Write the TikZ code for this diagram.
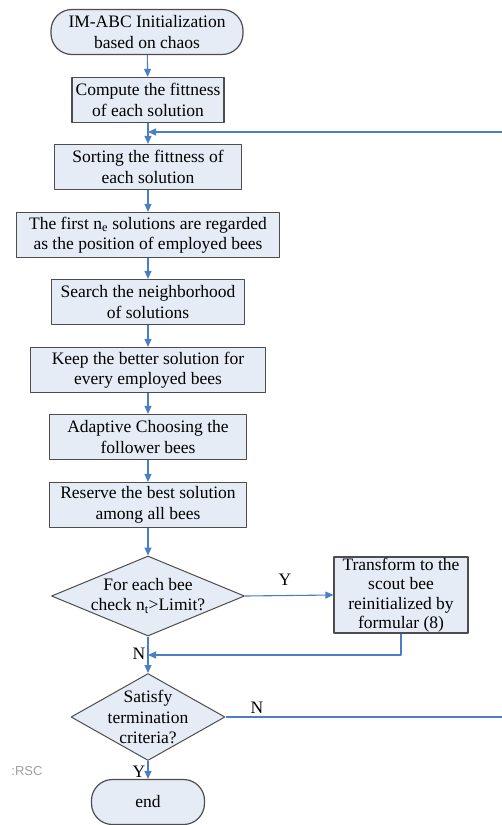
\documentclass[tikz,border=0pt]{standalone}
\usepackage{fontspec}
\setmainfont{Liberation Serif}
\newfontfamily\marksans{Liberation Sans}
\definecolor{ink}{HTML}{000000}
\definecolor{frame}{HTML}{4D4D4D}
\definecolor{boxfill}{HTML}{E6ECF6}
\definecolor{flowblue}{HTML}{4A7EC7}
\definecolor{faint}{HTML}{A0A0A0}
\newcommand{\figfontsize}{\fontsize{17.5}{20.5}\selectfont}
\tikzset{
  every picture/.style = {font=\figfontsize, line join=round},
  stepbox/.style       = {draw=frame, line width=1.2pt, fill=boxfill, text=ink,
                          align=center, minimum height=45, inner sep=0pt},
  terminal/.style      = {stepbox, rounded corners=21pt},
  decision/.style      = {draw=frame, line width=1pt, fill=boxfill, diamond, inner sep=0pt},
  flow/.style          = {draw=flowblue, line width=1.1pt},
  flowarrow/.style     = {flow, -{Triangle[length=8pt, width=7pt]}},
}
\usetikzlibrary{arrows.meta, shapes.geometric}

\begin{document}
\begin{tikzpicture}[x=1pt, y=-1pt]
  \useasboundingbox (0,0) rectangle (502,825);

  % --- main column of steps -------------------------------------------------
  \node[terminal, minimum width=192] (init)    at (147,32)  {IM-ABC Initialization\\based on chaos};
  \node[stepbox,  minimum width=152] (fitness) at (148,100) {Compute the fittness\\of each solution};
  \node[stepbox,  minimum width=187] (sorting) at (148,167) {Sorting the fittness of\\each solution};
  \node[stepbox,  minimum width=263] (employ)  at (148,235) {The first n\textsubscript{e} solutions are regarded\\as the position of employed bees};
  \node[stepbox,  minimum width=193] (search)  at (148,302) {Search the neighborhood\\of solutions};
  \node[stepbox,  minimum width=235] (keep)    at (148,370) {Keep the better solution for\\every employed bees};
  \node[stepbox,  minimum width=197] (follow)  at (148,437) {Adaptive Choosing the\\follower bees};
  \node[stepbox,  minimum width=197] (reserve) at (148,505) {Reserve the best solution\\among all bees};

  % --- limit check and scout bee --------------------------------------------
  \node[decision, minimum width=193, minimum height=80] (check) at (148,596) {};
  \node[align=center, text=ink] (checktext) at (check) {For each bee\\check n\textsubscript{t}>Limit?};
  \node[stepbox, minimum width=134, minimum height=76, font=\fontsize{17.5}{19.5}\selectfont]
    (scout) at (401,595) {Transform to the\\scout bee\\reinitialized by\\formular (8)};

  % --- termination ----------------------------------------------------------
  \node[decision, minimum width=154, minimum height=87] (term) at (148,717) {};
  \node[align=center, text=ink, font=\fontsize{17.5}{20.5}\selectfont] (termtext) at (term) {Satisfy\\termination\\criteria?};
  \node[terminal, minimum width=113, minimum height=45] (stop) at (148,802) {end};

  % loop ends at the picture's right edge
  \coordinate (loopin)  at (502,132);
  \coordinate (merge)   at (148,655);

  % --- connectors -----------------------------------------------------------
  \draw[flowarrow] (init) -- (fitness);
  \draw[flowarrow] (fitness) -- (sorting);
  \draw[flowarrow] (loopin) -- (loopin -| sorting.north);
  \draw[flowarrow] (sorting) -- (employ);
  \draw[flowarrow] (employ) -- (search);
  \draw[flowarrow] (search) -- (keep);
  \draw[flowarrow] (keep) -- (follow);
  \draw[flowarrow] (follow) -- (reserve);
  \draw[flowarrow] (reserve) -- (check.north);
  \draw[flowarrow] (check.east) -- (scout.west);
  \draw[flowarrow] (scout.south) |- (merge);
  \draw[flowarrow] (check.south) -- (term.north);
  \draw[flow]      (term.east) -- (term.east -| loopin);
  \draw[flowarrow] (term.south) -- (stop.north);

  % branch labels
  \node[text=ink] (ychk)  at (285,580) {Y};
  \node[text=ink] (nchk)  at (139,654) {N};
  \node[text=ink] (nterm) at (257,708) {N};
  \node[text=ink] (yterm) at (139,772) {Y};
  \node[text=faint, font=\marksans\fontsize{13}{15}\selectfont] (mark) at (27,771) {:RSC};
\end{tikzpicture}
\end{document}
